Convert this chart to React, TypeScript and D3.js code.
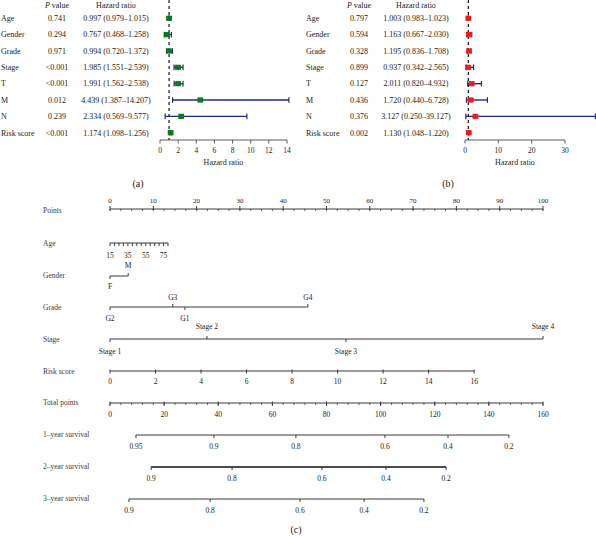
import React from "react";
import * as d3 from "d3";

// ---------- Forest plot data ----------
const variables = ["Age", "Gender", "Grade", "Stage", "T", "M", "N", "Risk score"];

const pValuesA = ["0.741", "0.294", "0.971", "<0.001", "<0.001", "0.012", "0.239", "<0.001"];
const hrA = [0.997, 0.767, 0.994, 1.985, 1.991, 4.439, 2.334, 1.174];
const lowA = [0.979, 0.468, 0.72, 1.551, 1.562, 1.387, 0.569, 1.098];
const highA = [1.015, 1.258, 1.372, 2.539, 2.538, 14.207, 9.577, 1.256];
const ticksA = [0, 2, 4, 6, 8, 10, 12, 14];

const pValuesB = ["0.797", "0.594", "0.328", "0.899", "0.127", "0.436", "0.376", "0.002"];
const hrB = [1.003, 1.163, 1.195, 0.937, 2.011, 1.72, 3.127, 1.13];
const lowB = [0.983, 0.667, 0.836, 0.342, 0.82, 0.44, 0.25, 1.048];
const highB = [1.023, 2.03, 1.708, 2.565, 4.932, 6.728, 39.127, 1.22];
const ticksB = [0, 10, 20, 30];

// ---------- Nomogram data ----------
const pointsTicks = [0, 10, 20, 30, 40, 50, 60, 70, 80, 90, 100];
const ageTicks = [15, 20, 25, 30, 35, 40, 45, 50, 55, 60, 65, 70, 75, 80];
const ageLabels = [15, 35, 55, 75];
const ageMaxPoints = 13.4;
const genderLevels = ["F", "M"];
const genderPoints = [0, 4.2];
const genderSide = ["below", "above"];
const gradeLevels = ["G2", "G3", "G1", "G4"];
const gradePoints = [0, 14.5, 17.3, 45.7];
const gradeSide = ["below", "above", "below", "above"];
const stageLevels = ["Stage 1", "Stage 2", "Stage 3", "Stage 4"];
const stagePoints = [0, 22.4, 54.5, 100];
const stageSide = ["below", "above", "below", "above"];
const riskTicks = [0, 2, 4, 6, 8, 10, 12, 14, 16];
const riskMaxPoints = 84.1;
const totalTicks = [0, 20, 40, 60, 80, 100, 120, 140, 160];
const surv1Labels = ["0.95", "0.9", "0.8", "0.6", "0.4", "0.2"];
const surv1Points = [9.6, 38.4, 68.7, 101.6, 124.9, 147.4];
const surv2Labels = ["0.9", "0.8", "0.6", "0.4", "0.2"];
const surv2Points = [15.2, 45.1, 78.3, 102.0, 124.2];
const surv3Labels = ["0.9", "0.8", "0.6", "0.4", "0.2"];
const surv3Points = [7.0, 37.0, 70.2, 93.9, 116.0];

const FONT = "'Liberation Serif', 'DejaVu Serif', serif";
const NAVY = "#1e2a7e";
const TXT = "#222";
const GREY = "#3a3a3a";

type ForestProps = {
  labelX: number;
  pX: number;
  hrX: number;
  xRange: [number, number];
  ticks: number[];
  hr: number[];
  lo: number[];
  hi: number[];
  pv: string[];
  color: string;
  panel: string;
  panelX: number;
};

function Forest(p: ForestProps) {
  const maxT = p.ticks[p.ticks.length - 1];
  const x = d3.scaleLinear().domain([0, maxT]).range(p.xRange);
  const y = d3.scalePoint<string>().domain(variables).range([18.3, 132.7]);
  const axisY = 140;
  const fmt = (v: number) => v.toFixed(3);
  return (
    <g fontFamily={FONT} fill={TXT}>
      <text x={p.pX} y={5} dy="0.35em" fontSize={8} textAnchor="middle">
        <tspan fontStyle="italic">P</tspan> value
      </text>
      <text x={p.hrX} y={5} dy="0.35em" fontSize={8} textAnchor="middle">
        Hazard ratio
      </text>
      {variables.map((v, i) => (
        <g key={v}>
          <text x={p.labelX} y={y(v)} dy="0.35em" fontSize={8}>{v}</text>
          <text x={p.pX} y={y(v)} dy="0.35em" fontSize={8} textAnchor="middle">{p.pv[i]}</text>
          <text x={p.hrX} y={y(v)} dy="0.35em" fontSize={8} textAnchor="middle">
            {`${fmt(p.hr[i])} (${fmt(p.lo[i])}–${fmt(p.hi[i])})`}
          </text>
        </g>
      ))}
      <line x1={x(1)} x2={x(1)} y1={0} y2={axisY} stroke="#111" strokeWidth={1.2} strokeDasharray="3,3" />
      {variables.map((v, i) => {
        const yy = y(v) as number;
        return (
          <g key={"ci" + v}>
            <line x1={x(p.lo[i])} x2={x(p.hi[i])} y1={yy} y2={yy} stroke={NAVY} strokeWidth={1.4} />
            <line x1={x(p.lo[i])} x2={x(p.lo[i])} y1={yy - 2.8} y2={yy + 2.8} stroke={NAVY} strokeWidth={1.2} />
            <line x1={x(p.hi[i])} x2={x(p.hi[i])} y1={yy - 2.8} y2={yy + 2.8} stroke={NAVY} strokeWidth={1.2} />
            <rect x={x(p.hr[i]) - 2.9} y={yy - 2.6} width={5.8} height={5.2} fill={p.color} />
          </g>
        );
      })}
      <line x1={x(0)} x2={x(maxT)} y1={axisY} y2={axisY} stroke="#333" strokeWidth={0.8} />
      {p.ticks.map((t) => (
        <g key={"t" + t}>
          <line x1={x(t)} x2={x(t)} y1={axisY} y2={axisY + 3.5} stroke="#333" strokeWidth={0.8} />
          <text x={x(t)} y={150.5} dy="0.35em" fontSize={7.5} textAnchor="middle">{t}</text>
        </g>
      ))}
      <text x={(x(0) + x(maxT)) / 2} y={162.5} dy="0.35em" fontSize={8} textAnchor="middle">Hazard ratio</text>
      <text x={p.panelX} y={183} dy="0.35em" fontSize={10} textAnchor="middle">{p.panel}</text>
    </g>
  );
}

function Nomogram() {
  const X0 = 110;
  const X1 = 543;
  const pts = d3.scaleLinear().domain([0, 100]).range([X0, X1]);
  const tot = d3.scaleLinear().domain([0, 160]).range([X0, X1]);
  const age = d3.scaleLinear().domain([15, 80]).range([pts(0), pts(ageMaxPoints)]);
  const risk = d3.scaleLinear().domain([0, 16]).range([pts(0), pts(riskMaxPoints)]);
  const LX = 43;
  const fs = 7.5;
  const rowLabel = (t: string, y: number) => (
    <text x={LX} y={y} dy="0.35em" fontSize={fs} fill={GREY}>{t}</text>
  );
  const yPts = 209, yAge = 243, yGen = 276, yGrade = 307, yStage = 339, yRisk = 371, yTot = 403;
  const yS1 = 435, yS2 = 467, yS3 = 499;

  const catAxis = (
    y: number,
    levels: string[],
    points: number[],
    side: string[],
    above: number,
    below: number,
    key: string
  ) => {
    const xs = points.map((v) => pts(v));
    return (
      <g key={key}>
        <line x1={d3.min(xs)} x2={d3.max(xs)} y1={y} y2={y} stroke={GREY} strokeWidth={1} />
        {levels.map((l, i) => (
          <g key={l}>
            <line
              x1={xs[i]} x2={xs[i]}
              y1={y} y2={side[i] === "above" ? y - 3 : y + 3}
              stroke={GREY} strokeWidth={1}
            />
            <text
              x={xs[i]} y={side[i] === "above" ? y - above : y + below}
              dy="0.35em" fontSize={fs} textAnchor="middle" fill={TXT}
            >{l}</text>
          </g>
        ))}
      </g>
    );
  };

  const survAxis = (y: number, labels: string[], points: number[], sw: number, key: string) => {
    const xs = points.map((v) => tot(v));
    return (
      <g key={key}>
        <line x1={xs[0]} x2={xs[xs.length - 1]} y1={y} y2={y} stroke={sw > 1 ? "#111" : GREY} strokeWidth={sw} />
        {labels.map((l, i) => (
          <g key={l}>
            <line x1={xs[i]} x2={xs[i]} y1={y} y2={y + 3} stroke={GREY} strokeWidth={1} />
            <text x={xs[i]} y={y + 11} dy="0.35em" fontSize={fs} textAnchor="middle" fill={TXT}>{l}</text>
          </g>
        ))}
      </g>
    );
  };

  const pointsMinor = d3.range(0, 100.01, 2.5);
  const totalMinor = d3.range(0, 160.01, 4);

  return (
    <g fontFamily={FONT}>
      {rowLabel("Points", 210)}
      <line x1={pts(0)} x2={pts(100)} y1={yPts} y2={yPts} stroke={GREY} strokeWidth={1} />
      {pointsMinor.map((t) => (
        <line key={"pm" + t} x1={pts(t)} x2={pts(t)} y1={yPts} y2={yPts + 2} stroke={GREY} strokeWidth={0.8} />
      ))}
      {pointsTicks.map((t) => (
        <g key={"p" + t}>
          <line x1={pts(t)} x2={pts(t)} y1={yPts - 3} y2={yPts + 1.5} stroke={GREY} strokeWidth={1} />
          <text x={pts(t)} y={201} dy="0.35em" fontSize={7} textAnchor="middle" fill={TXT}>{t}</text>
        </g>
      ))}

      {rowLabel("Age", yAge)}
      <line x1={age(15)} x2={age(80)} y1={yAge} y2={yAge} stroke={GREY} strokeWidth={1.2} />
      {ageTicks.map((t) => (
        <line key={"a" + t} x1={age(t)} x2={age(t)} y1={yAge} y2={yAge + 3} stroke={GREY} strokeWidth={1} />
      ))}
      {ageLabels.map((t) => (
        <text key={"al" + t} x={age(t)} y={yAge + 12} dy="0.35em" fontSize={fs} textAnchor="middle" fill={TXT}>{t}</text>
      ))}

      {rowLabel("Gender", 275)}
      {catAxis(yGen, genderLevels, genderPoints, genderSide, 11, 10, "gender")}

      {rowLabel("Grade", yGrade)}
      {catAxis(yGrade, gradeLevels, gradePoints, gradeSide, 10, 11, "grade")}

      {rowLabel("Stage", yStage)}
      {catAxis(yStage, stageLevels, stagePoints, stageSide, 13, 12, "stage")}

      {rowLabel("Risk score", yRisk)}
      <line x1={risk(0)} x2={risk(16)} y1={yRisk} y2={yRisk} stroke={GREY} strokeWidth={1} />
      {riskTicks.map((t) => (
        <g key={"r" + t}>
          <line x1={risk(t)} x2={risk(t)} y1={yRisk - 1.5} y2={yRisk + 2.5} stroke={GREY} strokeWidth={1} />
          <text x={risk(t)} y={yRisk + 10.5} dy="0.35em" fontSize={fs} textAnchor="middle" fill={TXT}>{t}</text>
        </g>
      ))}

      {rowLabel("Total points", 402)}
      <line x1={tot(0)} x2={tot(160)} y1={yTot} y2={yTot} stroke={GREY} strokeWidth={1} />
      {totalMinor.map((t) => (
        <line key={"tm" + t} x1={tot(t)} x2={tot(t)} y1={yTot} y2={yTot + 2} stroke={GREY} strokeWidth={0.8} />
      ))}
      {totalTicks.map((t) => (
        <g key={"tt" + t}>
          <line x1={tot(t)} x2={tot(t)} y1={yTot - 1.5} y2={yTot + 3} stroke={GREY} strokeWidth={1} />
          <text x={tot(t)} y={yTot + 11} dy="0.35em" fontSize={fs} textAnchor="middle" fill={TXT}>{t}</text>
        </g>
      ))}

      {rowLabel("1–year survival", 434)}
      {survAxis(yS1, surv1Labels, surv1Points, 1, "s1")}
      {rowLabel("2–year survival", 466.5)}
      {survAxis(yS2, surv2Labels, surv2Points, 1.6, "s2")}
      {rowLabel("3–year survival", 498)}
      {survAxis(yS3, surv3Labels, surv3Points, 1, "s3")}

      <text x={296} y={529} dy="0.35em" fontSize={10} textAnchor="middle" fill={TXT}>(c)</text>
    </g>
  );
}

export default function App() {
  return (
    <svg
      width={596}
      height={536}
      style={{ position: "absolute", left: 0, top: 0, background: "#fff" }}
    >
      <rect width={596} height={536} fill="#fff" />
      <Forest
        labelX={1}
        pX={57}
        hrX={116}
        xRange={[160, 287]}
        ticks={ticksA}
        hr={hrA}
        lo={lowA}
        hi={highA}
        pv={pValuesA}
        color="#0a7a1e"
        panel="(a)"
        panelX={138}
      />
      <Forest
        labelX={306}
        pX={359}
        hrX={416}
        xRange={[465, 565]}
        ticks={ticksB}
        hr={hrB}
        lo={lowB}
        hi={highB}
        pv={pValuesB}
        color="#ee1c1c"
        panel="(b)"
        panelX={448}
      />
      <Nomogram />
    </svg>
  );
}
